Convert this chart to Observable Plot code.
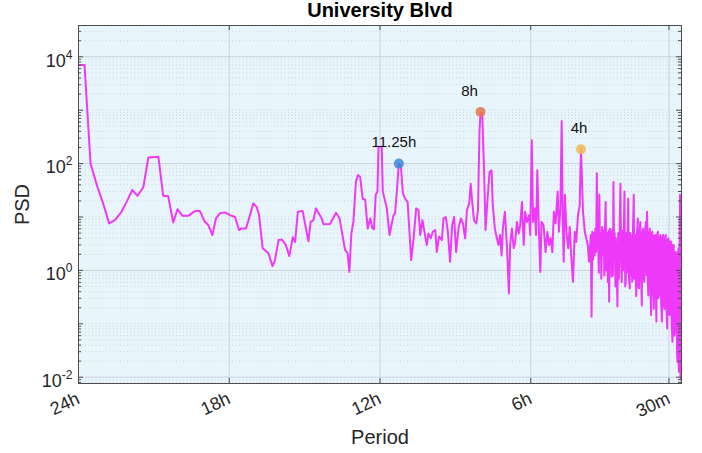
<!DOCTYPE html>
<html><head><meta charset="utf-8">
<script src="https://cdn.jsdelivr.net/npm/d3@7"></script>
<script src="https://cdn.jsdelivr.net/npm/@observablehq/plot@0.6"></script>
<style>body{margin:0;background:#fff;font-family:"Liberation Sans",Arial,sans-serif}</style>
</head><body><div id="chart"></div>
<script>
// Period in hours (x) and PSD (y)
const period = [
24.00,23.76,23.52,23.25,23.02,22.78,22.55,22.29,22.09,21.86,21.65,21.42,21.22,20.82,20.63,20.43,20.23,20.06,19.86,19.63,19.37,19.17,18.99,18.83,18.67,18.53,18.37,18.17,17.97,
17.77,17.61,17.51,17.33,17.04,16.91,16.82,16.67,16.44,16.28,16.18,16.04,15.91,15.75,15.61,15.47,15.38,15.27,15.08,14.85,14.76,14.65,14.55,14.32,14.25,13.99,13.75,13.61,13.39,13.29,13.22,13.14,13.06,12.96,12.88,12.79,12.69,12.59,12.49,12.39,12.30,12.24,12.17,12.10,12.06,11.93,
11.89,11.82,11.73,11.62,11.53,11.46,11.40,11.33,11.25,11.17,11.09,11.00,10.90,10.82,10.76,10.67,10.56,10.47,10.40,10.31,10.23,10.14,10.07,9.98,9.90,9.80,9.74,9.65,9.54,9.47,9.38,9.30,9.21,9.13,9.05,8.97,8.87,8.78,8.70,8.61,8.54,8.45,8.39,8.33,8.26,8.17,8.10,8.04,8.00,7.93,7.85,7.80,7.72,7.64,7.56,7.51,7.43,7.35,7.28,7.22,7.16,7.11,7.03,6.95,6.87,6.82,6.75,6.68,6.62,6.55,6.48,6.42,6.35,6.28,6.22,6.15,6.07,6.02,5.96,
5.91,5.84,5.79,5.74,5.67,5.62,5.57,5.49,5.41,5.34,5.27,5.21,5.14,5.08,5.01,4.93,4.88,4.82,4.77,4.73,4.69,4.64,4.57,4.51,4.45,4.39,4.32,4.25,4.19,4.12,4.05,4.03,4.00,3.92,3.85,3.79,3.73,3.68,3.61,
3.58,3.55,3.52,3.49,3.46,3.43,3.40,3.37,3.34,3.32,
3.29,3.27,3.24,3.22,3.19,3.16,3.13,3.10,3.07,3.04,
3.02,2.99,2.96,2.93,2.90,2.88,2.85,2.83,2.80,2.78,
2.75,2.73,2.71,2.68,2.66,2.63,2.61,2.58,2.55,2.52,
2.49,2.46,2.43,2.40,2.38,2.35,2.33,2.30,2.27,2.24,
2.22,2.19,2.17,2.14,2.12,2.09,2.06,2.04,2.01,1.99,
1.96,1.93,1.90,1.88,1.85,1.82,1.80,1.77,1.74,1.72,
1.69,1.66,1.64,1.61,1.58,1.56,1.53,1.50,1.48,1.45,
1.42,1.39,1.37,1.34,1.32,1.29,1.26,1.24,1.21,1.18,
1.16,1.13,1.10,1.08,1.05,1.02,1.00,0.97,0.94,0.92,
0.89,0.86,0.84,0.81,0.78,0.76,0.73,0.70,0.68,0.65,
0.63,0.60,0.57,0.55,0.52,0.50,0.47,0.44,0.41,0.39,
0.36,0.33,0.31,0.28,0.25,0.23,0.20,0.18,0.16,0.14,
0.12,0.11,0.10,0.08,0.06,0.04,0.02
];
const psd = [
7000,7000,100,37,18,7.6,8.7,12.5,19,32,25,36,130,134,25,24.5,7.9,14,10.5,10.5,12.9,13,8.4,7,4.6,9.4,11.7,12.2,10.8,
10,5.7,6.1,6.1,18,15.5,11.3,2.6,2.1,1.2,1.56,3.7,3.8,3,1.85,4.2,3.4,12.5,13,3.5,8.1,8.7,14.5,9.4,7.3,7.4,12,9.4,2.4,2.1,0.94,4.9,8.1,45,61,56,22,21,6.1,9.4,6.1,5.9,26,30,206,206,
30,22,14.5,4.6,7.6,10.8,11.7,30,100,93,28,22,19,4.6,1.56,3.7,14.5,13.5,4.6,8.7,5.3,3,4.9,4,5.3,5.7,2.2,4.3,3.7,9.4,10,5.3,1.45,7,10,2.2,6.5,9.4,7.6,4,13.5,18,42,19,8.7,7.6,13.5,400,900,870,53,5.7,22,70,75,16.7,6.1,4,3,4.6,1.9,6.1,12.5,3,0.37,3,6.1,2.6,3.4,8.1,4.9,7,19,3,12.5,8.1,10.8,4.6,275,
8.1,14.5,4.6,75,4.6,0.93,8.1,7,2.2,5.3,3,4,2.2,12.5,7.6,30,5.3,14.5,630,10.8,1.45,26,4.6,2.6,6.5,1.9,0.61,5.3,3.4,10.8,16.7,53,185,12.5,5.3,4,3,1.45,4.6,
0.135,5.3,1.6,5,1.9,6,2.2,66,2.5,4,
0.9,26,1.7,5,0.7,6.5,2,5.5,0.8,8,
19,1.0,5,0.6,5.5,0.26,6,1.5,5.3,0.76,
6,0.8,45,1.8,5,0.5,4,1.2,0.21,5,
0.7,6.1,42,1.6,0.6,5.5,1.0,4.5,30,0.5,
0.61,5,0.9,6,22,0.7,0.46,5,0.8,4.5,
0.61,6,26,0.7,4.6,0.8,0.33,5,9.4,0.5,
0.46,5.5,8.1,0.9,0.22,5,6.1,0.7,0.61,5,
8.1,0.8,12.5,0.6,0.34,4.8,6.1,0.5,0.146,5,
5.3,0.45,0.19,4.5,4.6,0.4,0.11,4.5,5.3,0.3,
0.34,4.2,4.6,0.25,0.11,4,4.6,0.22,0.19,4,
4.6,0.2,0.082,3.8,4,0.15,0.146,3.5,3.4,0.1,
0.046,3,3,0.06,0.082,2.2,1.9,0.03,0.019,2,
2.6,0.015,0.0126,1.5,26,0.01,0.009
];
// Highlighted peaks
const peakPeriod = [11.25, 8, 4];
const peakPSD = [100, 930, 185];
const peakLabel = ["11.25h", "8h", "4h"];
// Axis ticks
const xTickValues = [24, 18, 12, 6, 0.5];
const xTickLabels = ["24h", "18h", "12h", "6h", "30m"];
const yTickValues = [1e-2, 1e0, 1e2, 1e4];

const W = 702, H = 453, ML = 78, MR = 21, MT = 25, MB = 70;
const FW = W - ML - MR, FH = H - MT - MB;
const n = Math.min(period.length, psd.length);
const series = period.slice(0, n).map((p, i) => ({p, v: psd[i]}));
const peaks = peakPeriod.map((p, i) => ({p, v: peakPSD[i], label: peakLabel[i], color: ["#3f88d8", "#e2784e", "#f3bb4f"][i]}));
const labelDx = {"11.25h": -5, "8h": -11, "4h": -2};

const decades = d3.range(-3, 5).map(e => Math.pow(10, e));
const minors = [];
for (const d of decades) for (let k = 2; k <= 9; k++) minors.push(d * k);
const oddDecades = decades.filter(d => Math.round(Math.log10(d)) % 2 !== 0);
const ydom = [Math.pow(10, -2.118), Math.pow(10, 4.586)];
const inY = v => v >= ydom[0] && v <= ydom[1];

const chart = Plot.plot({
  width: W, height: H,
  marginLeft: ML, marginRight: MR, marginTop: MT, marginBottom: MB,
  style: {fontFamily: '"Liberation Sans", Arial, sans-serif', color: "#262626", background: "#fff"},
  x: {domain: [24, 0], axis: null},
  y: {type: "log", domain: ydom, axis: null},
  color: {type: "identity"},
  marks: [
    Plot.frame({fill: "#e9f5fd", stroke: null}),
    Plot.ruleY(minors.concat(oddDecades).filter(inY), {stroke: "#c3ced6", strokeDasharray: "1,2.5", strokeWidth: 0.8}),
    Plot.ruleY(yTickValues, {stroke: "#c7d2da", strokeWidth: 1}),
    Plot.ruleX(xTickValues.slice(1), {stroke: "#c7d2da", strokeWidth: 1}),
    Plot.line(series, {x: "p", y: "v", stroke: "#ee3af8", strokeWidth: 2, clip: true}),
    Plot.dot(peaks, {x: "p", y: "v", r: 5, fill: "color", fillOpacity: 0.85, stroke: null}),
    Plot.text(peaks, {x: "p", y: "v", text: "label", dy: -21, fontSize: 15, fill: "#111"}),
    Plot.frame({stroke: "#4d4d4d", strokeWidth: 1}),
    Plot.tickY(decades.filter(inY), {y: d => d, insetRight: FW - 5, stroke: "#4d4d4d"}),
    Plot.tickY(decades.filter(inY), {y: d => d, insetLeft: FW - 5, stroke: "#4d4d4d"}),
    Plot.tickY(minors.filter(inY), {y: d => d, insetRight: FW - 3, stroke: "#4d4d4d"}),
    Plot.tickY(minors.filter(inY), {y: d => d, insetLeft: FW - 3, stroke: "#4d4d4d"}),
    Plot.tickX(xTickValues, {x: d => d, insetTop: FH - 5, stroke: "#4d4d4d"}),
    Plot.tickX(xTickValues, {x: d => d, insetBottom: FH - 5, stroke: "#4d4d4d"}),
    Plot.axisY({ticks: yTickValues, tickFormat: d => "10^" + Math.round(Math.log10(d)), tickSize: 0, tickPadding: 6, fontSize: 18, label: null}),
    Plot.axisX({ticks: xTickValues, tickFormat: d => xTickLabels[xTickValues.indexOf(d)], tickSize: 0, tickPadding: 14, tickRotate: -25, fontSize: 18, label: null}),
    Plot.text(["University Blvd"], {frameAnchor: "top", lineAnchor: "middle", dy: -15, fontSize: 20, fontWeight: "bold", fill: "#000"}),
    Plot.text(["Period"], {frameAnchor: "bottom", lineAnchor: "middle", dy: 54, fontSize: 20, fill: "#262626"}),
    Plot.text(["PSD"], {frameAnchor: "left", textAnchor: "middle", lineAnchor: "middle", dx: -56, rotate: -90, fontSize: 20, fill: "#262626"})
  ]
});

// superscripts for the log axis labels, and per-label offsets for peak labels
const ns = "http://www.w3.org/2000/svg";
chart.querySelectorAll("text").forEach(t => {
  const m = /^10\^(-?\d+)$/.exec(t.textContent);
  if (m) {
    t.textContent = "";
    const a = document.createElementNS(ns, "tspan");
    a.textContent = "10";
    const b = document.createElementNS(ns, "tspan");
    b.textContent = m[1];
    b.setAttribute("font-size", "12");
    b.setAttribute("dy", "-8");
    t.appendChild(a); t.appendChild(b);
    t.setAttribute("transform", (t.getAttribute("transform") || "") + " translate(0,4)");
  } else if (labelDx[t.textContent] !== undefined) {
    t.setAttribute("transform", (t.getAttribute("transform") || "") + ` translate(${labelDx[t.textContent]},0)`);
  }
});
document.getElementById("chart").appendChild(chart);
</script>
</body></html>
